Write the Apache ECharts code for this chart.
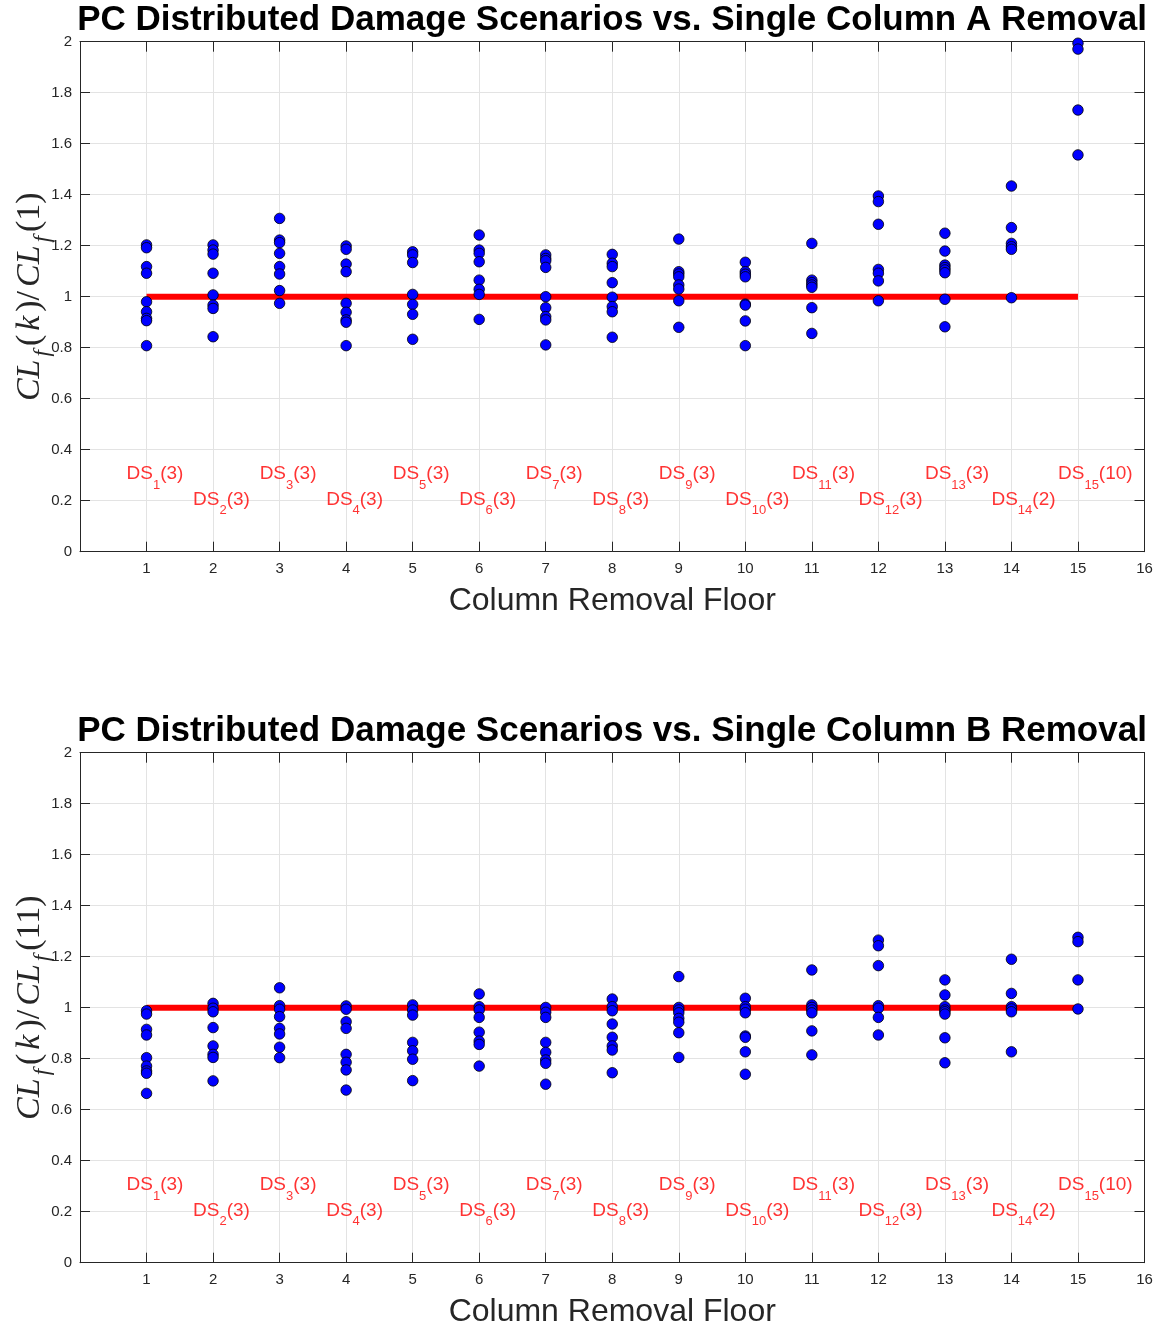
<!DOCTYPE html>
<html><head><meta charset="utf-8">
<script src="https://cdn.jsdelivr.net/npm/echarts@6/dist/echarts.min.js"></script>
<style>html,body{margin:0;padding:0;background:#fff}#c{width:1164px;height:1328px}</style>
</head><body><div id="c"></div>
<script>
const floors = [1,2,3,4,5,6,7,8,9,10,11,12,13,14,15];
const dsCounts = [3,3,3,3,3,3,3,3,3,3,3,3,3,2,10];
const titleA = 'PC Distributed Damage Scenarios vs. Single Column A Removal';
const titleB = 'PC Distributed Damage Scenarios vs. Single Column B Removal';
const xName = 'Column Removal Floor';
const yTicks = [0,0.2,0.4,0.6,0.8,1,1.2,1.4,1.6,1.8,2];

// Column A ratios, one array per removal floor
const valuesA = [
  [1.203,1.192,1.118,1.092,0.980,0.941,0.915,0.906,0.808],
  [1.203,1.183,1.167,1.092,1.007,0.967,0.954,0.843],
  [1.307,1.222,1.212,1.170,1.118,1.089,1.024,0.974],
  [1.199,1.186,1.128,1.098,0.974,0.939,0.909,0.900,0.808],
  [1.176,1.164,1.134,1.009,0.970,0.931,0.833],
  [1.242,1.183,1.170,1.137,1.065,1.029,1.009,0.911],
  [1.164,1.150,1.141,1.115,1.000,0.957,0.922,0.909,0.811],
  [1.166,1.131,1.118,1.055,0.998,0.961,0.941,0.841],
  [1.226,1.098,1.089,1.078,1.046,1.030,0.984,0.880],
  [1.135,1.098,1.088,1.078,0.971,0.967,0.905,0.808],
  [1.209,1.065,1.055,1.046,1.037,0.957,0.856],
  [1.395,1.373,1.284,1.107,1.092,1.062,0.984],
  [1.249,1.179,1.124,1.114,1.105,1.094,0.990,0.882],
  [1.434,1.271,1.209,1.196,1.186,0.996],
  [1.994,1.971,1.732,1.556]
];
// Column B ratios
const valuesB = [
  [0.988,0.975,0.915,0.893,0.804,0.771,0.752,0.743,0.664],
  [1.017,0.998,0.984,0.922,0.850,0.817,0.805,0.713],
  [1.078,1.008,0.994,0.965,0.919,0.897,0.845,0.804],
  [1.007,0.994,0.945,0.919,0.817,0.786,0.756,0.677],
  [1.011,0.991,0.971,0.864,0.831,0.798,0.714],
  [1.054,1.004,0.991,0.962,0.904,0.869,0.856,0.771],
  [1.001,0.982,0.962,0.864,0.825,0.795,0.782,0.700],
  [1.034,1.004,0.988,0.936,0.884,0.850,0.834,0.745],
  [1.122,1.001,0.991,0.980,0.958,0.943,0.902,0.805],
  [1.037,1.004,0.994,0.980,0.889,0.884,0.827,0.739],
  [1.148,1.011,1.001,0.991,0.980,0.909,0.815],
  [1.265,1.243,1.165,1.008,0.998,0.962,0.893],
  [1.109,1.050,1.004,0.991,0.984,0.975,0.882,0.784],
  [1.190,1.056,1.004,0.995,0.984,0.827],
  [1.276,1.259,1.109,0.995]
];
const refLine = 1;

const FONT = 'Liberation Sans, Arial, sans-serif';
const SERIF = 'Liberation Serif, Times New Roman, serif';
const AX = '#262626';
const GRIDC = '#e3e3e3';

function pts(vals){ const out=[]; vals.forEach((arr,i)=>arr.forEach(v=>out.push([floors[i],v]))); return out; }
function labels(){
  return floors.map((k,i)=>({value:[k-0.3, (k%2===1)?0.3:0.2], name:'{a|DS}{s|'+k+'}{a|('+dsCounts[i]+')}'}));
}
const gridTops = [41.7, 752.7];
const grids = gridTops.map(t=>({left:80, top:t, width:1064.5, height:510, containLabel:false, outerBoundsMode:'none'}));

function xAxes(gi){
  return [
    {gridIndex:gi, type:'value', min:0, max:16, interval:1, position:'bottom',
     name:xName, nameLocation:'middle', nameGap:33, nameMoveOverlap:false,
     nameTextStyle:{fontFamily:FONT, fontSize:32, color:AX},
     axisLine:{onZero:false, lineStyle:{color:AX, width:1}},
     axisTick:{inside:true, length:10, lineStyle:{color:AX}},
     axisLabel:{fontFamily:FONT, fontSize:15, color:AX, margin:10, formatter:v=>v===0?'':String(v)},
     splitLine:{show:true, lineStyle:{color:GRIDC}}},
    {gridIndex:gi, type:'value', min:0, max:16, interval:1, position:'top',
     axisLine:{onZero:false, lineStyle:{color:AX, width:1}},
     axisTick:{inside:true, length:10, lineStyle:{color:AX}},
     axisLabel:{show:false}, splitLine:{show:false}}
  ];
}
function yAxes(gi, denom){
  return [
    {gridIndex:gi, type:'value', min:0, max:2, interval:0.2, position:'left',
     name:'{i|CL}{s|f}{r|(}{i|k}{r|)/}{i|CL}{s|f}{r|('+denom+')}', nameLocation:'middle', nameGap:33, nameMoveOverlap:false,
     nameTextStyle:{rich:{
       i:{fontFamily:SERIF, fontStyle:'italic', fontSize:34, color:AX, lineHeight:34, verticalAlign:'top', padding:[0,2,0,2]},
       r:{fontFamily:SERIF, fontSize:34, color:AX, lineHeight:34, verticalAlign:'top', padding:[0,2,0,2]},
       s:{fontFamily:SERIF, fontStyle:'italic', fontSize:23, color:AX, lineHeight:23, verticalAlign:'top', padding:[18,2,0,1]}
     }},
     axisLine:{onZero:false, lineStyle:{color:AX, width:1}},
     axisTick:{inside:true, length:10, lineStyle:{color:AX}},
     axisLabel:{fontFamily:FONT, fontSize:15, color:AX, margin:8},
     splitLine:{show:true, lineStyle:{color:GRIDC}}},
    {gridIndex:gi, type:'value', min:0, max:2, interval:0.2, position:'right',
     axisLine:{onZero:false, lineStyle:{color:AX, width:1}},
     axisTick:{inside:true, length:10, lineStyle:{color:AX}},
     axisLabel:{show:false}, splitLine:{show:false}}
  ];
}
function seriesFor(gi, vals){
  const xi = gi*2, yi = gi*2;
  return [
    {type:'line', xAxisIndex:xi, yAxisIndex:yi, data:[[floors[0],refLine],[floors[floors.length-1],refLine]],
     symbol:'none', lineStyle:{color:'#ff0000', width:6}, z:2, silent:true, animation:false},
    {type:'scatter', xAxisIndex:xi, yAxisIndex:yi, data:pts(vals), symbol:'circle', symbolSize:10.5,
     itemStyle:{color:'#0000ff', opacity:1, borderColor:'#000', borderWidth:0.8}, z:3, animation:false},
    {type:'scatter', xAxisIndex:xi, yAxisIndex:yi, data:labels(), symbolSize:0, silent:true, z:4, animation:false,
     label:{show:true, position:'right', distance:0, formatter:p=>p.name,
       rich:{
         a:{fontFamily:FONT, fontSize:19, color:'#ff0000', lineHeight:21, verticalAlign:'top'},
         s:{fontFamily:FONT, fontSize:13, color:'#ff0000', lineHeight:13, verticalAlign:'top', padding:[14,0,0,0]}
       }}}
  ];
}

const chart = echarts.init(document.getElementById('c'), null, {renderer:'canvas'});
chart.setOption({
  backgroundColor:'#ffffff',
  animation:false,
  title:[
    {text:titleA, left:612, top:3, textAlign:'center', padding:0, textStyle:{fontFamily:FONT, fontSize:35, fontWeight:'bold', color:'#000'}},
    {text:titleB, left:612, top:714, textAlign:'center', padding:0, textStyle:{fontFamily:FONT, fontSize:35, fontWeight:'bold', color:'#000'}}
  ],
  grid:grids,
  xAxis:[...xAxes(0), ...xAxes(1)],
  yAxis:[...yAxes(0,'1'), ...yAxes(1,'11')],
  series:[...seriesFor(0, valuesA), ...seriesFor(1, valuesB)]
});
</script></body></html>
